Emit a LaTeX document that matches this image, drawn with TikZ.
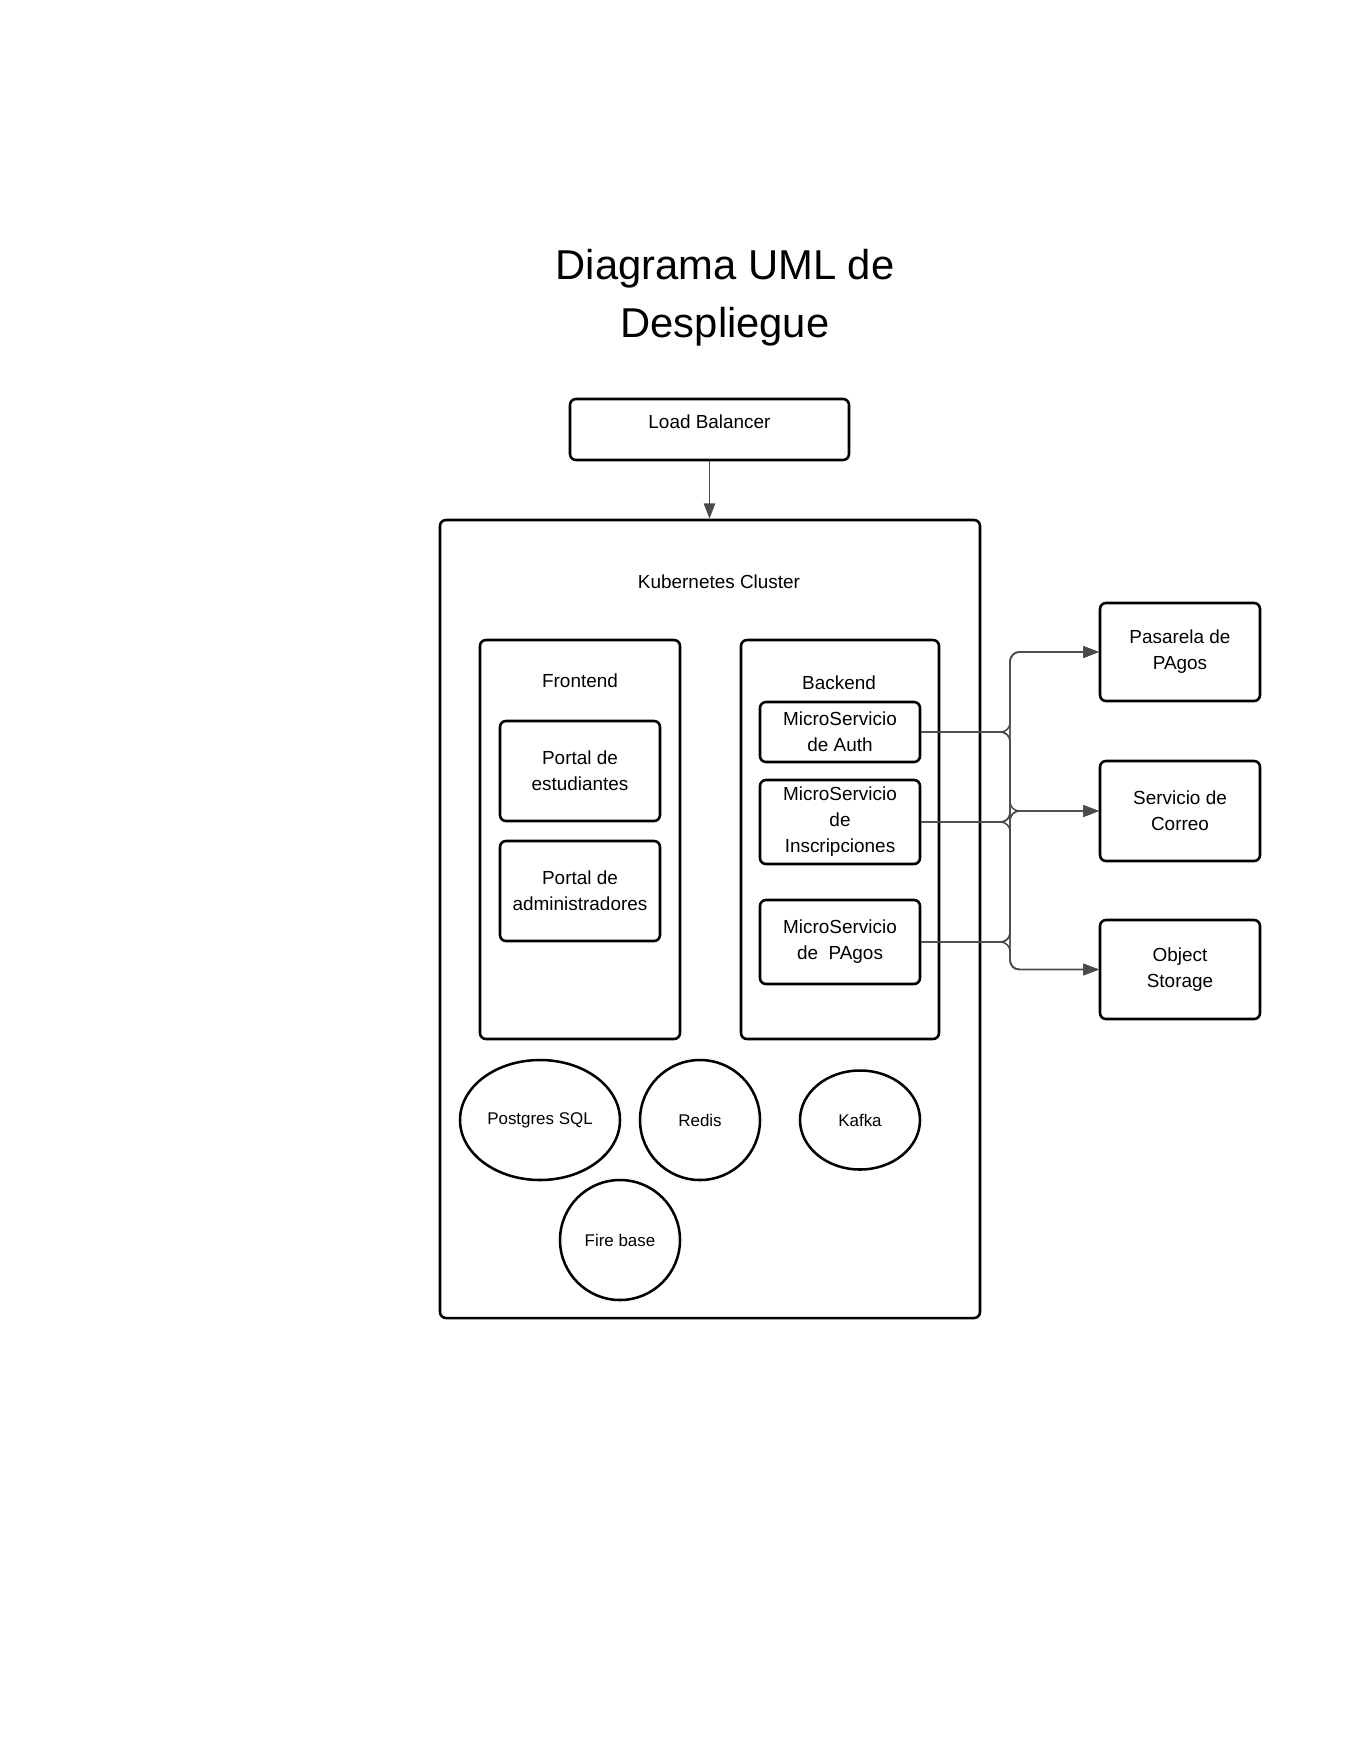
\documentclass[tikz,border=0pt]{standalone}
\usepackage{fontspec}
\setmainfont{Liberation Sans}
\usetikzlibrary{arrows.meta,shapes.geometric}
\definecolor{conncol}{HTML}{4A4A4A}
\tikzset{
  box/.style={draw=black, line width=1.9pt, rounded corners=4.5pt, fill=white, inner sep=0pt},
  boxtext/.style={font=\fontsize{14.2}{19.5}\selectfont, align=center, inner sep=0pt},
  ell/.style={draw=black, line width=1.9pt, ellipse, inner sep=0pt, font=\fontsize{12.7}{16}\selectfont},
  conn/.style={draw=conncol, line width=1.1pt, rounded corners=7pt, -{Triangle[length=11.5pt,width=8.5pt]}},
  titletext/.style={font=\fontsize{31.3}{43.5}\selectfont, align=center, inner sep=0pt}
}
\begin{document}
\begin{tikzpicture}[x=0.75pt,y=-0.75pt]
\useasboundingbox[fill=white] (0,0) rectangle (1360,1760);

\node[titletext] (title) at (725,298) {Diagrama UML de\\Despliegue};

% Load balancer
\node[box, minimum width=209.25pt, minimum height=45.75pt] (lb) at (709.5,429.5) {};
\node[boxtext] (lbt) at (709.5,421.5) {Load Balancer};

% Cluster
\node[box, minimum width=405pt, minimum height=598.5pt] (cluster) at (710,919) {};
\node[boxtext] (clt) at (719,581.5) {Kubernetes Cluster};

% Frontend
\node[box, minimum width=150pt, minimum height=299.25pt] (front) at (580,839.5) {};
\node[boxtext] (frt) at (580,680.5) {Frontend};
\node[box, boxtext, minimum width=120pt, minimum height=75pt] (pest) at (580,771) {Portal de\\estudiantes};
\node[box, boxtext, minimum width=120pt, minimum height=75pt] (padm) at (580,891) {Portal de\\administradores};

% Backend
\node[box, minimum width=148.5pt, minimum height=299.25pt] (back) at (840,839.5) {};
\node[boxtext] (bkt) at (839,682.5) {Backend};
\node[box, boxtext, minimum width=120pt, minimum height=45pt] (auth) at (840,732) {MicroServicio\\de Auth};
\node[box, boxtext, minimum width=120pt, minimum height=63pt] (insc) at (840,822) {MicroServicio\\de\\Inscripciones};
\node[box, boxtext, minimum width=120pt, minimum height=63pt] (pag) at (840,942) {MicroServicio\\de\ \ PAgos};

% External services
\node[box, boxtext, minimum width=120pt, minimum height=73.5pt] (pas) at (1180,652) {Pasarela de\\PAgos};
\node[box, boxtext, minimum width=120pt, minimum height=75pt] (cor) at (1180,811) {Servicio de\\Correo};
\node[box, boxtext, minimum width=120pt, minimum height=74.25pt] (obj) at (1180,969.5) {Object\\Storage};

% Data stores
\node[ell, minimum width=120pt, minimum height=90pt] (pg) at (540,1120) {Postgres SQL};
\node[ell, minimum width=90pt, minimum height=90pt] (redis) at (700,1120) {Redis};
\node[ell, minimum width=90pt, minimum height=74.25pt] (kafka) at (860,1120) {Kafka};
\node[ell, minimum width=90pt, minimum height=90pt] (fb) at (620,1240) {Fire base};

% Connectors
\draw[draw=conncol, line width=1.1pt, -{Triangle[length=11.5pt,width=8.5pt]}] (lb.south) -- (cluster.north -| lb.south);

\coordinate (bus) at (1010,0);
\foreach \s in {auth,insc,pag}{
  \foreach \t in {pas,cor,obj}{
    \draw[conn] (\s.east) -| (bus |- \t.west) -- (\t.west);
  }
}
\end{tikzpicture}
\end{document}
